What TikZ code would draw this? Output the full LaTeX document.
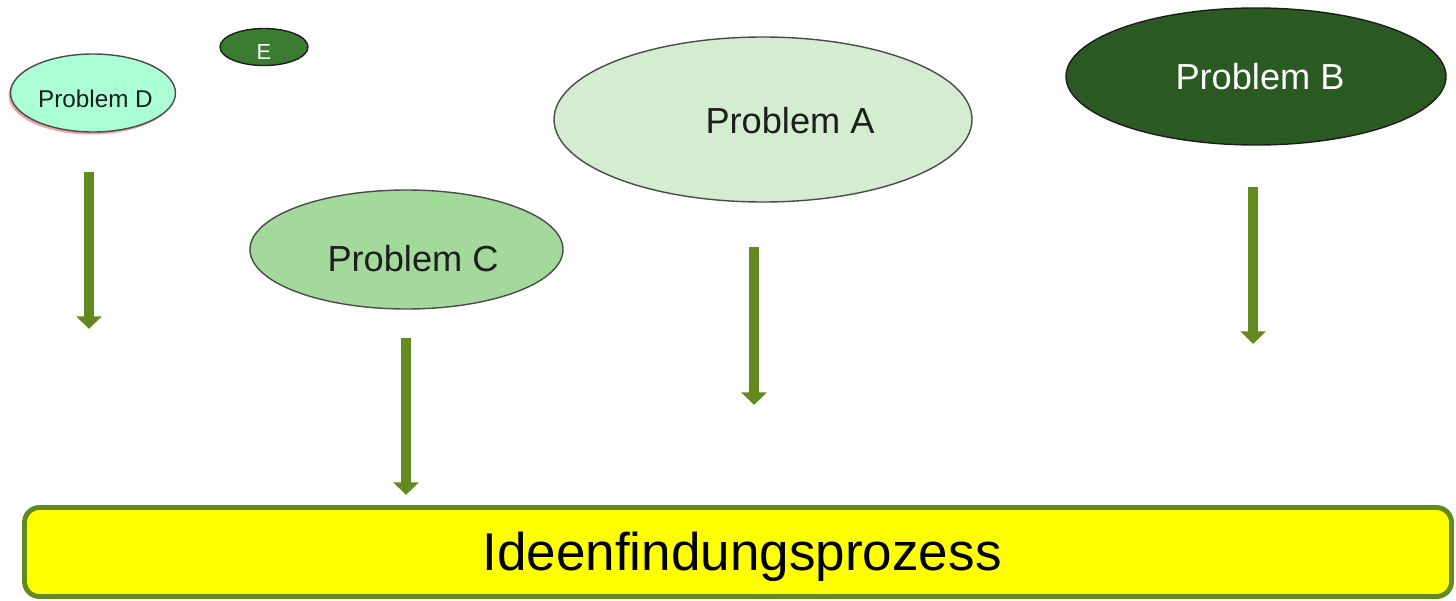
\documentclass[tikz,border=0pt]{standalone}
\usepackage{fontspec}
\setsansfont{Liberation Sans}
\usetikzlibrary{arrows.meta,shadows,shapes.geometric}
\definecolor{Ink}{HTML}{1E1E1E}
\definecolor{Stem}{HTML}{628A1E}
\definecolor{ProbA}{HTML}{D4EDD1}
\definecolor{ProbB}{HTML}{2A5A22}
\definecolor{ProbC}{HTML}{A3D99B}
\definecolor{ProbD}{HTML}{AAFFD5}
\definecolor{ProbE}{HTML}{3A7D30}
\definecolor{Blush}{HTML}{F2A3A3}
\definecolor{Marker}{HTML}{FFFF00}

\begin{document}
\begin{tikzpicture}[x=1cm,y=1cm,
  bubble/.style={ellipse,inner sep=0pt,draw=Ink!80,line width=0.4pt},
  bubbletext/.style={font=\sffamily\fontsize{10.3pt}{12pt}\selectfont,text=Ink},
  feed/.style={-{Triangle[width=7pt,length=3.6pt]},Stem,line width=2.8pt}]
\useasboundingbox (0,0) rectangle (14.56,6.00);
% problem bubbles
\node[bubble,minimum width=0.88cm,minimum height=0.37cm,fill=ProbE,draw=Ink] (pe) at (2.640,5.530) {};
\node[font=\sffamily\fontsize{6.2pt}{7pt}\selectfont,text=white] (pe-text) at (2.640,5.475) {E};
\node[bubble,minimum width=1.65cm,minimum height=0.78cm,fill=ProbD,
  general shadow={fill=Blush,shadow xshift=-0.02cm,shadow yshift=-0.025cm}] (pd) at (0.930,5.070) {};
\node[font=\sffamily\fontsize{6.9pt}{8pt}\selectfont,text=Ink] (pd-text) at (0.955,5.010) {Problem D};
\node[bubble,minimum width=4.18cm,minimum height=1.65cm,fill=ProbA] (pa) at (7.630,4.805) {};
\node[bubbletext] (pa-text) at (7.900,4.790) {Problem A};
\node[bubble,minimum width=3.13cm,minimum height=1.19cm,fill=ProbC] (pc) at (4.065,3.505) {};
\node[bubbletext] (pc-text) at (4.130,3.410) {Problem C};
\node[bubble,minimum width=3.80cm,minimum height=1.37cm,fill=ProbB,draw=Ink] (pb) at (12.560,5.235) {};
\node[bubbletext,text=white] (pb-text) at (12.600,5.230) {Problem B};
% idea box
\node[rounded corners=0.15cm,fill=Marker,draw=Stem,line width=1.4pt,
  minimum width=14.27cm,minimum height=0.89cm,inner sep=0pt] (idee) at (7.380,0.480) {};
\node[font=\sffamily\fontsize{15.1pt}{18pt}\selectfont,text=black] (idee-text) at (7.420,0.435) {Ideenfindungsprozess};
% arrows
\coordinate (d-from) at (0.890,4.280);  \coordinate (d-to) at (0.890,2.710);
\coordinate (c-from) at (4.060,2.620);  \coordinate (c-to) at (4.060,1.050);
\coordinate (a-from) at (7.540,3.530);  \coordinate (a-to) at (7.540,1.950);
\coordinate (b-from) at (12.530,4.130); \coordinate (b-to) at (12.530,2.560);
\draw[feed] (d-from) -- (d-to);
\draw[feed] (c-from) -- (c-to);
\draw[feed] (a-from) -- (a-to);
\draw[feed] (b-from) -- (b-to);
\end{tikzpicture}
\end{document}
